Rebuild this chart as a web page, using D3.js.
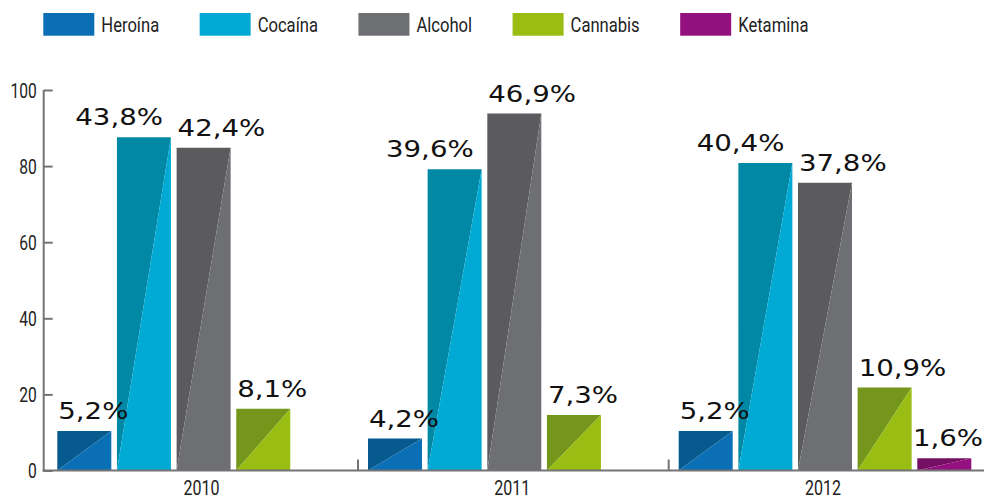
<!DOCTYPE html>
<html><head><meta charset="utf-8">
<script src="https://cdn.jsdelivr.net/npm/d3@7"></script>
<style>
html,body{margin:0;padding:0;background:#fff;}
.narrow{font-family:Roboto,"Noto Sans",sans-serif;}
</style>
</head><body>
<svg id="chart" width="984" height="499"></svg>
<script>
const years = ["2010", "2011", "2012"];
const substances = ["Heroína", "Cocaína", "Alcohol", "Cannabis", "Ketamina"];
const heroina  = [5.2, 4.2, 5.2];
const cocaina  = [43.8, 39.6, 40.4];
const alcohol  = [42.4, 46.9, 37.8];
const cannabis = [8.1, 7.3, 10.9];
const ketamina = [null, null, 1.6];
const tickValues = [0, 10, 20, 30, 40, 50];
const tickLabels = ["0", "20", "40", "60", "80", "100"];
const lightColors = ["#0b6fb5", "#00aad4", "#6e6f72", "#99bd12", "#93117e"];
const darkColors  = ["#065a8e", "#0088a5", "#5b5b5e", "#74961a", "#740f62"];

const series = [heroina, cocaina, alcohol, cannabis, ketamina];
const svg = d3.select("#chart");
const SX = 0.78;  // horizontal condensation for axis labels
const LX = 0.81;  // horizontal condensation for legend labels
const VX = 1.2;   // horizontal extension for value labels

const y = d3.scaleLinear().domain([0, 50]).range([470.5, 90]);
const x0 = d3.scaleBand().domain(years).range([57.3, 57.3 + 3 * 310.7]).padding(0);
const x1 = d3.scaleBand().domain(substances).range([0, 292.6]).paddingInner(0.0947).paddingOuter(0);
const bw = x1.bandwidth();

const records = [];
years.forEach((yr, i) => {
  substances.forEach((s, j) => {
    const v = series[j][i];
    if (v != null) records.push({year: yr, sub: s, j, v});
  });
});

// bars (two triangles each)
const g = svg.append("g");
records.forEach(d => {
  const xl = x0(d.year) + x1(d.sub), xr = xl + bw;
  const yt = y(d.v), yb = y(0);
  g.append("path").attr("d", `M${xl},${yt}L${xr},${yt}L${xl},${yb}Z`).attr("fill", darkColors[d.j]);
  g.append("path").attr("d", `M${xr},${yt}L${xr},${yb}L${xl},${yb}Z`).attr("fill", lightColors[d.j]);
});

// value labels
records.forEach(d => {
  const xl = x0(d.year) + x1(d.sub), xr = xl + bw;
  const isEnd = d.sub === "Cocaína";
  let tx = isEnd ? xr - 8 : xl + 1;
  const t = svg.append("text")
    .attr("text-anchor", isEnd ? "end" : "start")
    .attr("font-family", "DejaVu Sans, sans-serif")
    .attr("font-size", 23)
    .attr("fill", "#111")
    .text(d.v.toFixed(1).replace(".", ",") + "%");
  const w = t.node().getComputedTextLength() * VX;
  if (!isEnd && tx + w > 983) tx = 983 - w;
  t.attr("transform", `translate(${tx},${y(d.v) - 12}) scale(${VX},1)`);
});

// axes
const axisColor = "#747477";
svg.append("line").attr("x1", 43.7).attr("x2", 43.7).attr("y1", y(50)).attr("y2", y(0) + 1)
  .attr("stroke", axisColor).attr("stroke-width", 2);
svg.append("line").attr("x1", 42.7).attr("x2", 984).attr("y1", y(0)).attr("y2", y(0))
  .attr("stroke", axisColor).attr("stroke-width", 2);

const yAxis = d3.axisRight(y).tickValues(tickValues).tickSize(9)
  .tickFormat((d, i) => tickLabels[i]);
const ya = svg.append("g").attr("transform", "translate(43.7,0)").call(yAxis);
ya.select(".domain").remove();
ya.selectAll(".tick line").attr("stroke", axisColor).attr("stroke-width", 2);
ya.selectAll(".tick text").attr("x", -7 / SX).attr("text-anchor", "end").attr("dy", "0.36em")
  .attr("transform", `scale(${SX},1)`)
  .attr("class", "narrow").attr("font-size", 20).attr("fill", "#222");

// separators between year groups
years.slice(1).forEach(yr => {
  svg.append("line").attr("x1", x0(yr) - 10).attr("x2", x0(yr) - 10)
    .attr("y1", y(0) - 11).attr("y2", y(0))
    .attr("stroke", axisColor).attr("stroke-width", 2);
});

// year labels
years.forEach(yr => {
  svg.append("text")
    .attr("transform", `translate(${x0(yr) + 292.6 / 2 - 2},495) scale(0.8,1)`)
    .attr("text-anchor", "middle").attr("class", "narrow")
    .attr("font-size", 20).attr("fill", "#222").text(yr);
});

// legend
let lx = 43.3;
substances.forEach((s, j) => {
  svg.append("rect").attr("x", lx).attr("y", 13).attr("width", 51).attr("height", 22.7)
    .attr("fill", lightColors[j]);
  const t = svg.append("text")
    .attr("transform", `translate(${lx + 58},32.3) scale(${LX},1)`)
    .attr("class", "narrow").attr("font-size", 20.5).attr("fill", "#222").text(s);
  lx = lx + 58 + t.node().getComputedTextLength() * LX + 40.5;
});
</script>
</body></html>
